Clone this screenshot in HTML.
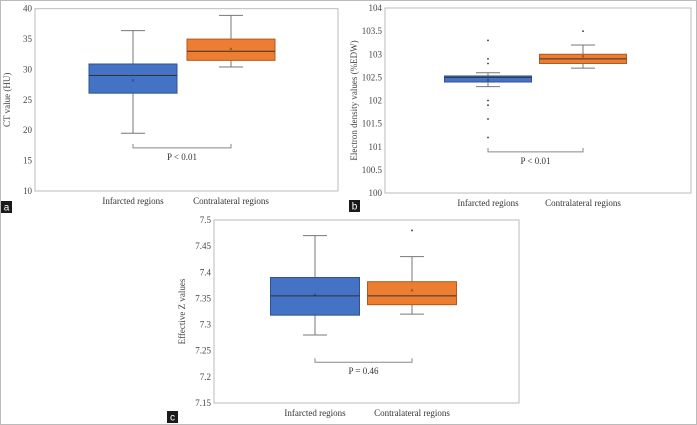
<!DOCTYPE html>
<html><head><meta charset="utf-8"><style>
body{margin:0;background:#fff}
svg{display:block;font-family:"Liberation Serif",serif}
</style></head><body>
<svg id="fig" width="697" height="425" viewBox="0 0 697 425">
<rect x="0.5" y="0.5" width="696" height="424" fill="#fff" stroke="#bbb"/>
</svg>
<script>
const aTicks=[10,15,20,25,30,35,40];
const aCats=["Infarcted regions","Contralateral regions"];
const aMin=[19.5,30.4],aQ1=[26.1,31.5],aMed=[29,33],aQ3=[30.9,35],aMax=[36.4,38.9],aMean=[28.2,33.4];
const aOut=[[],[]];
const aBracket=17.1,aP="P < 0.01";

const bTicks=[100,100.5,101,101.5,102,102.5,103,103.5,104];
const bCats=["Infarcted regions","Contralateral regions"];
const bMin=[102.3,102.7],bQ1=[102.4,102.8],bMed=[102.5,102.9],bQ3=[102.53,103.0],bMax=[102.6,103.2],bMean=[102.44,102.95];
const bOut=[[103.3,102.9,102.8,102.0,101.9,101.6,101.2],[103.5]];
const bBracket=100.89,bP="P < 0.01";

const cTicks=[7.15,7.2,7.25,7.3,7.35,7.4,7.45,7.5];
const cCats=["Infarcted regions","Contralateral regions"];
const cMin=[7.28,7.32],cQ1=[7.318,7.338],cMed=[7.355,7.355],cQ3=[7.39,7.382],cMax=[7.47,7.43],cMean=[7.357,7.365];
const cOut=[[],[7.48]];
const cBracket=7.228,cP="P = 0.46";

const NS="http://www.w3.org/2000/svg";
const svg=document.getElementById("fig");
function mk(tag,attrs,parent,text){const e=document.createElementNS(NS,tag);for(const k in attrs)e.setAttribute(k,attrs[k]);if(text!==undefined)e.textContent=text;(parent||svg).appendChild(e);return e;}
const fills=["#4472c4","#ed7d31"],strokes=["#2f528f","#ae5a21"];

function panel(id,L,R,T,B,ticks,cats,mn,q1,md,q3,mx,mean,outs,br,ptxt,title,titleX,letter,lx,ly,centers,bw){
  const g=mk("g",{});
  
  
  const lo=ticks[0],hi=ticks[ticks.length-1];
  const y=v=>B-(v-lo)/(hi-lo)*(B-T);
  const frame=mk("rect",{x:L,y:T,width:R-L,height:B-T,fill:"none",stroke:"#bbb","stroke-width":1},g);
  
  
  ticks.forEach(t=>{const tl=mk("text",{x:L-3,y:y(t)+3,"text-anchor":"end","font-size":9,fill:"#444"},g,String(t));
    
    });
  const yt=mk("text",{x:0,y:0,transform:`translate(${titleX},${(T+B)/2}) rotate(-90)`,"text-anchor":"middle","font-size":9,fill:"#444"},g,title);
  
  
  cats.forEach((c,i)=>{
    const cx=centers[i],x0=cx-bw/2;
    const bg=mk("g",{},g);
    
    
    const ls={stroke:"#777","stroke-width":1};
    mk("line",Object.assign({x1:cx,x2:cx,y1:y(mx[i]),y2:y(q3[i])},ls),bg);
    mk("line",Object.assign({x1:cx,x2:cx,y1:y(q1[i]),y2:y(mn[i])},ls),bg);
    mk("line",Object.assign({x1:cx-12,x2:cx+12,y1:y(mx[i]),y2:y(mx[i])},ls),bg);
    mk("line",Object.assign({x1:cx-12,x2:cx+12,y1:y(mn[i]),y2:y(mn[i])},ls),bg);
    mk("rect",{x:x0,y:y(q3[i]),width:bw,height:Math.max(1,y(q1[i])-y(q3[i])),fill:fills[i],stroke:strokes[i],"stroke-width":1},bg);
    mk("line",{x1:x0,x2:x0+bw,y1:y(md[i]),y2:y(md[i]),stroke:"#333","stroke-width":1},bg);
    mk("text",{x:cx,y:y(mean[i])+2,"text-anchor":"middle","font-size":6,fill:"#222"},bg,"×");
    outs[i].forEach(o=>{const d=mk("circle",{cx:cx,cy:y(o),r:0.9,fill:"#333"},bg);
      
      });
    const xl=mk("text",{x:cx,y:B+13,"text-anchor":"middle","font-size":9,fill:"#333"},g,c);
    
    
  });
  const by=y(br);
  const brk=mk("path",{d:`M${centers[0]} ${by-4}V${by}H${centers[1]}V${by-4}`,fill:"none",stroke:"#888","stroke-width":1},g);
  
  
  const pt=mk("text",{x:(centers[0]+centers[1])/2,y:by+12,"text-anchor":"middle","font-size":9,fill:"#333"},g,ptxt);
  
  
  const lb=mk("g",{},g);
  
  
  mk("rect",{x:lx,y:ly,width:11,height:12,fill:"#1a1a1a"},lb);
  mk("text",{x:lx+5.5,y:ly+9.5,"text-anchor":"middle","font-size":10,fill:"#fff","font-family":"Liberation Sans, sans-serif"},lb,letter);
}
panel("a",35,338,8.7,191,aTicks,aCats,aMin,aQ1,aMed,aQ3,aMax,aMean,aOut,aBracket,aP,"CT value (HU)",10,"a",1,201,[133,231],88);
panel("b",385,691,8,193,bTicks,bCats,bMin,bQ1,bMed,bQ3,bMax,bMean,bOut,bBracket,bP,"Electron density values (%EDW)",357,"b",349,200,[488,583],87);
panel("c",214,519,220,403,cTicks,cCats,cMin,cQ1,cMed,cQ3,cMax,cMean,cOut,cBracket,cP,"Effective Z values",185,"c",167,411,[315,412],89);
</script>
</body></html>
